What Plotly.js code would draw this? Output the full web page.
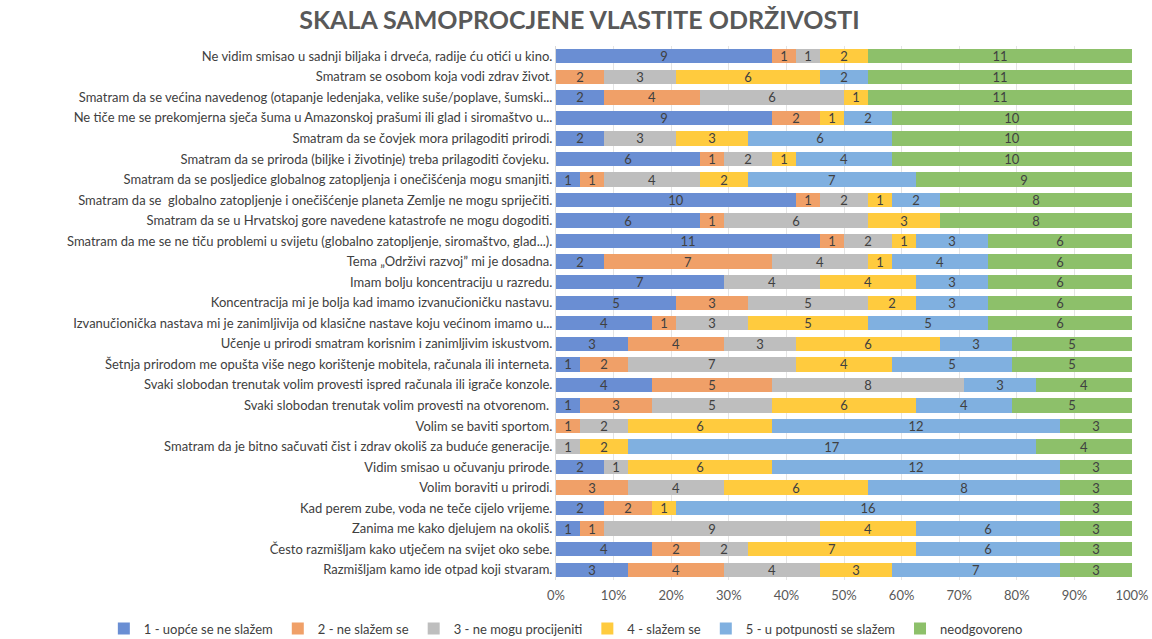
<!DOCTYPE html>
<html>
<head>
<meta charset="utf-8">
<script src="https://cdn.plot.ly/plotly-3.0.1.min.js"></script>
<style>html,body{margin:0;padding:0;background:#fff;}#chart{width:1152px;height:639px;}</style>
</head>
<body>
<div id="chart"></div>
<script>
const categories = [
  "Ne vidim smisao u sadnji biljaka i drveća, radije ću otići u kino.",
  "Smatram se osobom koja vodi zdrav život.",
  "Smatram da se većina navedenog (otapanje ledenjaka, velike suše/poplave, šumski...",
  "Ne tiče me se prekomjerna sječa šuma u Amazonskoj prašumi ili glad i siromaštvo u...",
  "Smatram da se čovjek mora prilagoditi prirodi.",
  "Smatram da se priroda (biljke i životinje) treba prilagoditi čovjeku. ",
  "Smatram da se posljedice globalnog zatopljenja i onečišćenja mogu smanjiti.",
  "Smatram da se  globalno zatopljenje i onečišćenje planeta Zemlje ne mogu spriječiti.",
  "Smatram da se u Hrvatskoj gore navedene katastrofe ne mogu dogoditi.",
  "Smatram da me se ne tiču problemi u svijetu (globalno zatopljenje, siromaštvo, glad...).",
  "Tema „Održivi razvoj\u201d mi je dosadna.",
  "Imam bolju koncentraciju u razredu.",
  "Koncentracija mi je bolja kad imamo izvanučioničku nastavu.",
  "Izvanučionička nastava mi je zanimljivija od klasične nastave koju većinom imamo u...",
  "Učenje u prirodi smatram korisnim i zanimljivim iskustvom.",
  "Šetnja prirodom me opušta više nego korištenje mobitela, računala ili interneta.",
  "Svaki slobodan trenutak volim provesti ispred računala ili igrače konzole.",
  "Svaki slobodan trenutak volim provesti na otvorenom. ",
  "Volim se baviti sportom.",
  "Smatram da je bitno sačuvati čist i zdrav okoliš za buduće generacije.",
  "Vidim smisao u očuvanju prirode.",
  "Volim boraviti u prirodi.",
  "Kad perem zube, voda ne teče cijelo vrijeme.",
  "Zanima me kako djelujem na okoliš.",
  "Često razmišljam kako utječem na svijet oko sebe.",
  "Razmišljam kamo ide otpad koji stvaram."
];

const seriesNames = [
  "1 - uopće se ne slažem",
  "2 - ne slažem se",
  "3 - ne mogu procijeniti",
  "4 - slažem se",
  "5 - u potpunosti se slažem",
  "neodgovoreno"
];

const s1 = [9,0,2,9,2,6,1,10,6,11,2,7,5,4,3,1,4,1,0,0,2,0,2,1,4,3];
const s2 = [1,2,4,2,0,1,1,1,1,1,7,0,3,1,4,2,5,3,1,0,0,3,2,1,2,4];
const s3 = [1,3,6,0,3,2,4,2,6,2,4,4,5,3,3,7,8,5,2,1,1,4,0,9,2,4];
const s4 = [2,6,1,1,3,1,2,1,3,1,1,4,2,5,6,4,0,6,6,2,6,6,1,4,7,3];
const s5 = [0,2,0,2,6,4,7,2,0,3,4,3,3,5,3,5,3,4,12,17,12,8,16,6,6,7];
const s6 = [11,11,11,10,10,10,9,8,8,6,6,6,6,6,5,5,4,5,3,4,3,3,3,3,3,3];

const colors = ["#6A8ED3","#F0A068","#BEBEBE","#FFCB3E","#80B0E0","#8DC06A"];
const allSeries = [s1,s2,s3,s4,s5,s6];

const traces = allSeries.map((vals, i) => ({
  type: "bar",
  orientation: "h",
  name: seriesNames[i],
  y: categories,
  x: vals,
  text: vals.map(v => v ? String(v) : ""),
  textposition: "inside",
  insidetextanchor: "middle",
  textangle: 0,
  constraintext: "none",
  textfont: {family: "Lato, 'Open Sans', sans-serif", size: 13, color: "#404040"},
  marker: {color: colors[i], line: {width: 0}},
  hoverinfo: "skip"
}));

const layout = {
  width: 1152,
  height: 639,
  paper_bgcolor: "#ffffff",
  plot_bgcolor: "#ffffff",
  barmode: "stack",
  barnorm: "percent",
  bargap: 0.3,
  margin: {l: 556, r: 20, t: 46, b: 59, autoexpand: false},
  title: {
    text: "<b>SKALA SAMOPROCJENE VLASTITE ODRŽIVOSTI</b>",
    x: 0.503, xanchor: "center", xref: "container",
    y: 0.968, yanchor: "middle", yref: "container",
    font: {family: "Lato, 'Open Sans', sans-serif", size: 25, color: "#595959"}
  },
  font: {family: "Lato, 'Open Sans', sans-serif", size: 13, color: "#404040"},
  xaxis: {
    range: [0, 100],
    dtick: 10,
    ticksuffix: "%",
    showgrid: true,
    gridcolor: "#E4E4E4",
    zeroline: false,
    showline: false,
    ticks: "",
    ticklabelstandoff: 6,
    tickfont: {size: 13, color: "#595959"},
    fixedrange: true
  },
  yaxis: {
    autorange: "reversed",
    showgrid: false,
    showline: true,
    linecolor: "#D9D9D9",
    ticks: "",
    ticklen: 0,
    tickfont: {size: 13, color: "#404040"},
    automargin: false,
    fixedrange: true
  },
  legend: {
    orientation: "h",
    xref: "paper", x: -0.785, xanchor: "left",
    yref: "paper", y: -0.063, yanchor: "top",
    font: {size: 13, color: "#404040"},
    traceorder: "normal",
    itemwidth: 30
  },
  showlegend: true
};

Plotly.newPlot("chart", traces, layout, {displayModeBar: false, staticPlot: true});
</script>
</body>
</html>
